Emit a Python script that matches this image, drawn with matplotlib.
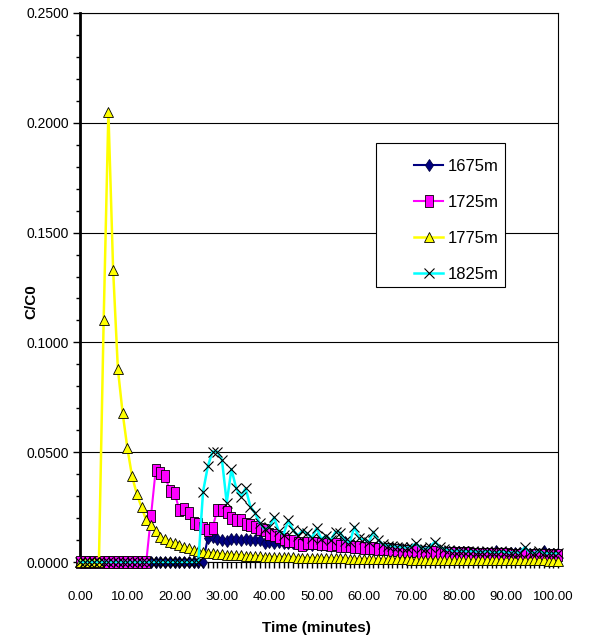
import matplotlib
matplotlib.use("Agg")
import matplotlib.pyplot as plt
from matplotlib.patches import Rectangle
import numpy as np

NARROW = ['Liberation Sans Narrow', 'Liberation Sans', 'DejaVu Sans']

# sample index (one sample per minute), category axis
minutes = np.arange(102)
x_tick_pos = np.arange(0, 101, 10)
x_tick_labels = [f"{v:.2f}" for v in x_tick_pos]
y_ticks = [0.0, 0.05, 0.10, 0.15, 0.20, 0.25]

c_1675 = [0] * 27 + [
    0.0109, 0.0115, 0.0105,
    0.0100, 0.0094, 0.0103, 0.0103, 0.0100,
    0.0105, 0.0098, 0.0100, 0.0100, 0.0085,
    0.0090, 0.0088, 0.0090, 0.0088, 0.0087,
    0.0085, 0.0082, 0.0078, 0.0080, 0.0078,
    0.0080, 0.0077, 0.0078, 0.0075, 0.0077,
    0.0085, 0.0090, 0.0072, 0.0070, 0.0068,
    0.0066, 0.0064, 0.0063, 0.0061, 0.0060,
    0.0058, 0.0057, 0.0056, 0.0054, 0.0053,
    0.0052, 0.0051, 0.0050, 0.0050, 0.0060,
    0.0049, 0.0048, 0.0047, 0.0046, 0.0046,
    0.0045, 0.0044, 0.0044, 0.0043, 0.0043,
    0.0042, 0.0042, 0.0041, 0.0052, 0.0041,
    0.0040, 0.0040, 0.0039, 0.0039, 0.0039,
    0.0038, 0.0038, 0.0037, 0.0048, 0.0037,
    0.0036, 0.0036]

c_1725 = [0] * 15 + [
    0.021, 0.042, 0.0404, 0.039, 0.0325,
    0.0313, 0.0237, 0.024, 0.0222, 0.0176,
    0.0175, 0.0154, 0.0146, 0.0154, 0.0237,
    0.0237, 0.0229, 0.0199, 0.019, 0.019,
    0.0173, 0.017, 0.0158, 0.0149, 0.0146,
    0.0128, 0.0123, 0.0113, 0.0105, 0.0097,
    0.0095, 0.0085, 0.0078, 0.0088, 0.0085,
    0.0085, 0.0082, 0.0080, 0.0078, 0.0080,
    0.0075, 0.0073, 0.0072, 0.0070, 0.0068,
    0.0066, 0.0065, 0.0062, 0.0060, 0.0058,
    0.0057, 0.0055, 0.0054, 0.0052, 0.0050,
    0.0050, 0.0048, 0.0047, 0.0046, 0.0045,
    0.0044, 0.0043, 0.0042, 0.0041, 0.0040,
    0.0040, 0.0039, 0.0039, 0.0038, 0.0038,
    0.0037, 0.0037, 0.0036, 0.0036, 0.0035,
    0.0035, 0.0034, 0.0034, 0.0033, 0.0033,
    0.0033, 0.0032, 0.0032, 0.0031, 0.0031,
    0.0030, 0.0030]

c_1775 = [0] * 5 + [
    0.110, 0.205, 0.133, 0.088, 0.068,
    0.052, 0.039, 0.031, 0.025, 0.019,
    0.017, 0.014, 0.0115, 0.0103, 0.0093,
    0.0085, 0.0078, 0.0068, 0.0062, 0.0055,
    0.0052, 0.0047, 0.0043, 0.0040, 0.0038,
    0.0036, 0.0034, 0.0033, 0.0031, 0.0030,
    0.0029, 0.0028, 0.0027, 0.0026, 0.0025,
    0.0024, 0.0023, 0.0023, 0.0022, 0.0021,
    0.0021, 0.0020, 0.0020, 0.0019, 0.0019,
    0.0018, 0.0018, 0.0017, 0.0017, 0.0016,
    0.0016, 0.0016, 0.0015, 0.0015, 0.0015,
    0.0014, 0.0014, 0.0014, 0.0013, 0.0013,
    0.0013, 0.0012, 0.0012, 0.0012, 0.0012,
    0.0011, 0.0011, 0.0011, 0.0011, 0.0010,
    0.0010, 0.0010, 0.0010, 0.0010, 0.0009,
    0.0009, 0.0009, 0.0009, 0.0009, 0.0008,
    0.0008, 0.0008, 0.0008, 0.0008, 0.0008,
    0.0008, 0.0007, 0.0007, 0.0007, 0.0007,
    0.0007, 0.0007, 0.0007, 0.0007, 0.0006,
    0.0006, 0.0006]

c_1825 = [0] * 26 + [
    0.032, 0.0435, 0.0503, 0.0503,
    0.0465, 0.027, 0.0423, 0.0336, 0.0298,
    0.0336, 0.0252, 0.0222, 0.0176, 0.0150,
    0.0158, 0.0204, 0.0140, 0.0125, 0.0190,
    0.0146, 0.0120, 0.0143, 0.0130, 0.0110,
    0.0154, 0.0105, 0.0120, 0.0100, 0.0138,
    0.0134, 0.0095, 0.0090, 0.0160, 0.0108,
    0.0103, 0.0090, 0.0138, 0.0100, 0.0080,
    0.0075, 0.0072, 0.0070, 0.0068, 0.0065,
    0.0070, 0.0085, 0.0065, 0.0060, 0.0070,
    0.0093, 0.0070, 0.0058, 0.0055, 0.0050,
    0.0052, 0.0050, 0.0048, 0.0050, 0.0047,
    0.0046, 0.0050, 0.0045, 0.0044, 0.0048,
    0.0044, 0.0043, 0.0045, 0.0042, 0.0068,
    0.0045, 0.0042, 0.0052, 0.0041, 0.0040,
    0.0040, 0.0039]

labels = ["1675m", "1725m", "1775m", "1825m"]

fig = plt.figure(figsize=(5.91, 6.41), dpi=100)
ax = fig.add_axes([80 / 591, 1 - 562 / 641, 478 / 591, 549 / 641])

# rectangle marker, taller than wide like Excel's square
rect_marker = [(-0.72, -1), (0.72, -1), (0.72, 1), (-0.72, 1), (-0.72, -1)]

lines = []
lines += ax.plot(minutes, c_1675, color='#000080', lw=1.5, marker='d', ms=6.5,
                 mfc='#000080', mec='#000040', mew=0.6, clip_on=False, zorder=3)
lines += ax.plot(minutes, c_1725, color='#FF00FF', lw=1.5, marker=rect_marker, ms=8,
                 mfc='#FF00FF', mec='black', mew=0.6, clip_on=False, zorder=3)
lines += ax.plot(minutes, c_1775, color='#FFFF00', lw=1.8, marker='^', ms=6.5,
                 mfc='#FFFF00', mec='black', mew=0.6, clip_on=False, zorder=3)
lines += ax.plot(minutes, c_1825, color='#00FFFF', lw=1.8, marker='x', ms=7.5,
                 mec='black', mew=0.8, clip_on=False, zorder=3)

ax.set_xlim(0, 101)
ax.set_ylim(0, 0.25)

# gridlines
ax.set_yticks(y_ticks)
ax.set_yticklabels([f"{v:.4f}" for v in y_ticks], family=NARROW, fontsize=10)
ax.set_yticks(np.arange(0, 0.2501, 0.01), minor=True)
ax.yaxis.grid(True, which='major', color='black', lw=0.8)
ax.set_axisbelow(True)

ax.set_xticks(x_tick_pos)
ax.set_xticklabels(x_tick_labels, family=NARROW, fontsize=9.5)
ax.set_xticks(minutes, minor=True)

ax.tick_params(axis='y', which='major', direction='out', length=5, width=1, pad=3)
ax.tick_params(axis='y', which='minor', direction='out', length=3, width=1)
ax.tick_params(axis='x', which='both', direction='out', length=4, width=1, pad=17)

for side in ['top', 'right', 'bottom']:
    ax.spines[side].set_linewidth(0.8)
ax.spines['left'].set_linewidth(2)

ax.set_ylabel("C/C0", fontsize=11, fontweight='bold', family=['Liberation Sans', 'DejaVu Sans'])
ax.yaxis.set_label_coords(-0.088, 0.474)
ax.set_xlabel("Time (minutes)", fontsize=11, fontweight='bold', family=NARROW)
ax.xaxis.set_label_coords(0.494, -0.108)

# legend box drawn separately so the entries can sit centred like Excel does
box = Rectangle((376 / 591, 1 - 287 / 641), 129 / 591, 144 / 641, transform=fig.transFigure,
                facecolor='white', edgecolor='black', lw=0.8, zorder=5)
fig.patches.append(box)
leg = fig.legend(lines, labels, loc='upper left', bbox_to_anchor=(406 / 591, 1 - 151 / 641),
                 frameon=False, prop={'family': NARROW, 'size': 12}, borderpad=0,
                 handlelength=1.7, handletextpad=0.3, labelspacing=1.25)
leg.set_zorder(6)

fig.savefig("out.png", dpi=100, facecolor='white')
